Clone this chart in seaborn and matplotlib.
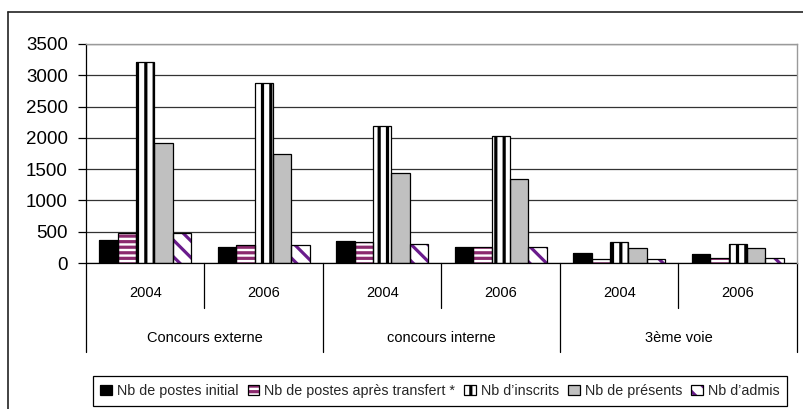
import matplotlib
matplotlib.use("Agg")
import matplotlib.pyplot as plt
import seaborn as sns
import pandas as pd
from matplotlib.lines import Line2D
from matplotlib.patches import Patch
from matplotlib.legend_handler import HandlerTuple

# ---------------- data ----------------
groups = ["Concours externe", "concours interne", "3ème voie"]
years = ["2004", "2006"]
series = ["Nb de postes initial", "Nb de postes après transfert *",
          "Nb d\u2019inscrits", "Nb de présents", "Nb d\u2019admis"]

# order: CE 2004, CE 2006, CI 2004, CI 2006, 3V 2004, 3V 2006
postes_initial = [365, 258, 355, 255, 160, 140]
postes_apres = [473, 280, 340, 248, 65, 75]
inscrits = [3220, 2880, 2185, 2030, 332, 305]
presents = [1910, 1740, 1440, 1340, 232, 232]
admis = [473, 280, 300, 255, 60, 78]

yticks = [0, 500, 1000, 1500, 2000, 2500, 3000, 3500]

# ---------------- styling ----------------
sns.set_theme(style="white")
plt.rcParams['font.family'] = ['Liberation Sans', 'DejaVu Sans']
plt.rcParams['hatch.linewidth'] = 2.3

PLUM = "#8B2A6E"
PURPLE = "#6A1B8C"
styles = {
    series[0]: dict(face="black", hatch=None, hc="black"),
    series[1]: dict(face="white", hatch="---", hc=PLUM),
    series[2]: dict(face="white", hatch="||", hc="black"),
    series[3]: dict(face="#C0C0C0", hatch=None, hc="#C0C0C0"),
    series[4]: dict(face="white", hatch="\\\\", hc=PURPLE),
}

cats = [f"{g}|{y}" for g in groups for y in years]
rows = []
for s, vals in zip(series, [postes_initial, postes_apres, inscrits, presents, admis]):
    for c, v in zip(cats, vals):
        rows.append({"cat": c, "serie": s, "val": v})
df = pd.DataFrame(rows)

sentinel = ["#010000", "#020000", "#030000", "#040000", "#050000"]
pal = dict(zip(series, sentinel))
col2serie = {matplotlib.colors.to_hex(c): s for s, c in pal.items()}

fig = plt.figure(figsize=(8.04, 4.09), dpi=100)
ax = fig.add_axes([86 / 804, 1 - 263 / 409, (797 - 86) / 804, (263 - 44) / 409])

# layer 1: fills + hatches
sns.barplot(data=df, x="cat", y="val", hue="serie", order=cats, hue_order=series,
            palette=pal, saturation=1, width=0.78, errorbar=None, legend=False, ax=ax)
n1 = len(ax.patches)
for p in ax.patches:
    s = col2serie.get(matplotlib.colors.to_hex(p.get_facecolor()))
    if s is None:
        continue
    st = styles[s]
    p.set_facecolor(st["face"])
    p.set_edgecolor(st["hc"])
    p.set_linewidth(0)
    if st["hatch"]:
        p.set_hatch(st["hatch"])

# layer 2: black outlines
sns.barplot(data=df, x="cat", y="val", hue="serie", order=cats, hue_order=series,
            palette=pal, saturation=1, width=0.78, errorbar=None, legend=False, ax=ax)
for p in ax.patches[n1:]:
    p.set_facecolor("none")
    p.set_edgecolor("black")
    p.set_linewidth(0.9)
    p.set_zorder(3)

# ---------------- axes ----------------
ax.set_xlim(-0.5, len(cats) - 0.5)
ax.set_ylim(0, 3500)
ax.set_yticks(yticks)
ax.set_yticklabels([str(t) for t in yticks])
ax.set_xlabel("")
ax.set_ylabel("")
ax.yaxis.grid(True, color="#333333", linewidth=0.9)
ax.xaxis.grid(False)
ax.set_axisbelow(True)
for side in ["left", "bottom"]:
    ax.spines[side].set_color("black")
    ax.spines[side].set_linewidth(0.9)
for side in ["top", "right"]:
    ax.spines[side].set_color("#9A9A9A")
    ax.spines[side].set_linewidth(1.0)
    ax.spines[side].set_zorder(4)

ax.tick_params(axis="y", left=True, direction="out", length=6, width=0.9,
               color="black", labelsize=13.5, pad=7, labelcolor="black")
ax.set_xticks(range(len(cats)))
ax.set_xticklabels([c.split("|")[1] for c in cats])
ax.tick_params(axis="x", bottom=False, length=0, labelsize=10.5, pad=16.5, labelcolor="black")

# two-level category separators
trans = ax.get_xaxis_transform()
ax_h = 263 - 44
short = -(308 - 263) / ax_h
long_ = -(352 - 263) / ax_h
nb = len(cats)
for i in range(nb + 1):
    xb = i - 0.5
    y2 = long_ if i % len(years) == 0 else short
    ax.add_line(Line2D([xb, xb], [0, y2], transform=trans, color="black",
                       linewidth=0.9, clip_on=False))
for gi, g in enumerate(groups):
    xc = gi * len(years) + (len(years) - 1) / 2
    ax.text(xc, -(338 - 263) / ax_h, g, transform=trans, ha="center", va="center",
            fontsize=10.5, color="black")

# ---------------- legend ----------------
handles = []
for s in series:
    st = styles[s]
    fill = Patch(facecolor=st["face"], edgecolor=st["hc"], hatch=st["hatch"], linewidth=0)
    outline = Patch(facecolor="none", edgecolor="black", linewidth=0.9)
    handles.append((fill, outline))
leg = fig.legend(handles, series, handler_map={tuple: HandlerTuple(ndivide=1, pad=0)},
                 loc="center", bbox_to_anchor=(440 / 804, 1 - 391 / 409), ncol=5,
                 frameon=True, fancybox=False, edgecolor="black", framealpha=1,
                 fontsize=10.3, handlelength=0.8, handleheight=0.65, handletextpad=0.35,
                 columnspacing=0.65, borderpad=0.55, borderaxespad=0)
leg.get_frame().set_linewidth(0.9)

# outer chart border (left and top)
fig.add_artist(Line2D([8 / 804, 8 / 804], [0, 1 - 12 / 409], transform=fig.transFigure,
                      color="#222222", linewidth=1.2))
fig.add_artist(Line2D([8 / 804, 1], [1 - 12 / 409, 1 - 12 / 409], transform=fig.transFigure,
                      color="#222222", linewidth=1.2))

fig.savefig("out.png", dpi=100)
